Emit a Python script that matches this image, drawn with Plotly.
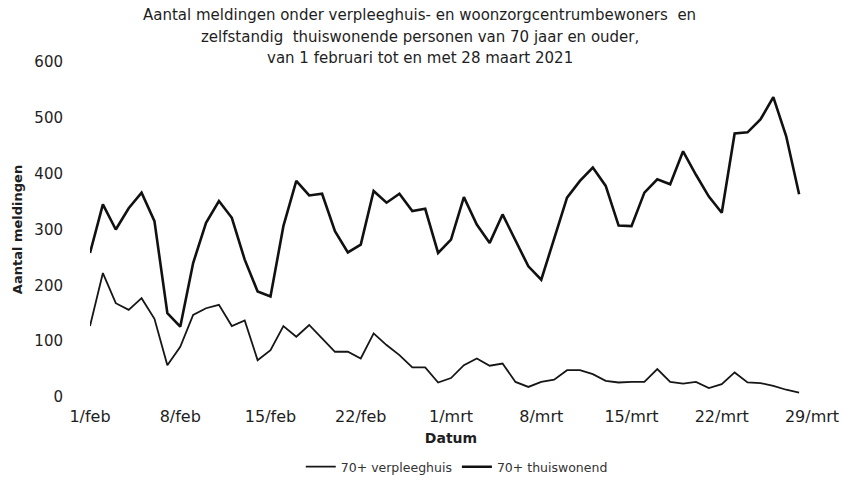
import pandas as pd
import plotly.graph_objects as go

# daily values, 1 feb t/m 28 mrt 2021
dates = pd.date_range("2021-02-01", "2021-03-28", freq="D")

thuiswonend = [
    258, 345, 300, 338, 366, 315, 150, 126, 240, 312,
    351, 321, 246, 189, 180, 306, 387, 361, 364, 297,
    259, 273, 369, 348, 364, 333, 337, 258, 282, 358,
    309, 276, 327, 279, 234, 210, 282, 357, 387, 411,
    378, 307, 306, 366, 390, 381, 440, 398, 359, 330,
    472, 474, 497, 537, 467, 363,
]

verpleeghuis = [
    127, 222, 168, 156, 177, 140, 57, 90, 147, 159,
    165, 127, 137, 66, 84, 127, 108, 129, 105, 81,
    81, 69, 114, 93, 75, 53, 53, 26, 34, 57,
    69, 56, 60, 27, 18, 27, 31, 48, 48, 41,
    29, 26, 27, 27, 50, 27, 24, 27, 16, 23,
    44, 26, 25, 20, 13, 8,
]

tick_dates = pd.date_range("2021-02-01", "2021-03-29", freq="7D")
tick_labels = ["1/feb", "8/feb", "15/feb", "22/feb", "1/mrt",
               "8/mrt", "15/mrt", "22/mrt", "29/mrt"]

title_lines = [
    "Aantal meldingen onder verpleeghuis- en woonzorgcentrumbewoners  en",
    "zelfstandig  thuiswonende personen van 70 jaar en ouder,",
    "van 1 februari tot en met 28 maart 2021",
]

FONT = "DejaVu Sans, sans-serif"
INK = "#1e1e1e"

fig = go.Figure()
fig.add_trace(go.Scatter(
    x=dates, y=verpleeghuis, mode="lines", name="70+ verpleeghuis",
    line=dict(color="#161616", width=1.8),
))
fig.add_trace(go.Scatter(
    x=dates, y=thuiswonend, mode="lines", name="70+ thuiswonend",
    line=dict(color="#111111", width=2.6),
))

fig.update_xaxes(
    type="date",
    range=["2021-02-01", "2021-03-29"],
    tickvals=tick_dates,
    ticktext=tick_labels,
    showgrid=False, showline=False, zeroline=False,
    ticks="", ticklabelstandoff=8, automargin=False,
    tickfont=dict(size=16, color=INK),
    title=dict(text="<b>Datum</b>", font=dict(size=14, color=INK), standoff=8),
)
fig.update_yaxes(
    range=[0, 600], dtick=100,
    showgrid=False, showline=False, zeroline=False,
    ticks="", ticklabelstandoff=26, automargin=False,
    tickfont=dict(size=15, color=INK),
    title=dict(text="<b>Aantal meldingen</b>", font=dict(size=13, color=INK), standoff=8),
)

# three title lines, spaced like the original
for txt, ypos in zip(title_lines, [1.140, 1.075, 1.012]):
    fig.add_annotation(
        text=txt, xref="paper", yref="paper", x=0.457, y=ypos,
        xanchor="center", yanchor="middle", showarrow=False,
        font=dict(size=15, color=INK, family=FONT),
    )

fig.update_layout(
    width=843, height=483,
    paper_bgcolor="white", plot_bgcolor="white",
    font=dict(family=FONT, color=INK),
    margin=dict(l=90, r=31, t=62, b=86, autoexpand=False),
    legend=dict(
        orientation="h", x=0.508, xanchor="center",
        yref="container", y=0.033, yanchor="middle",
        font=dict(size=12.5, color="#333"), itemwidth=30,
    ),
    showlegend=True,
)

fig.write_html("out.html", config={"displayModeBar": False},
               post_script="document.body.style.margin='0';")
